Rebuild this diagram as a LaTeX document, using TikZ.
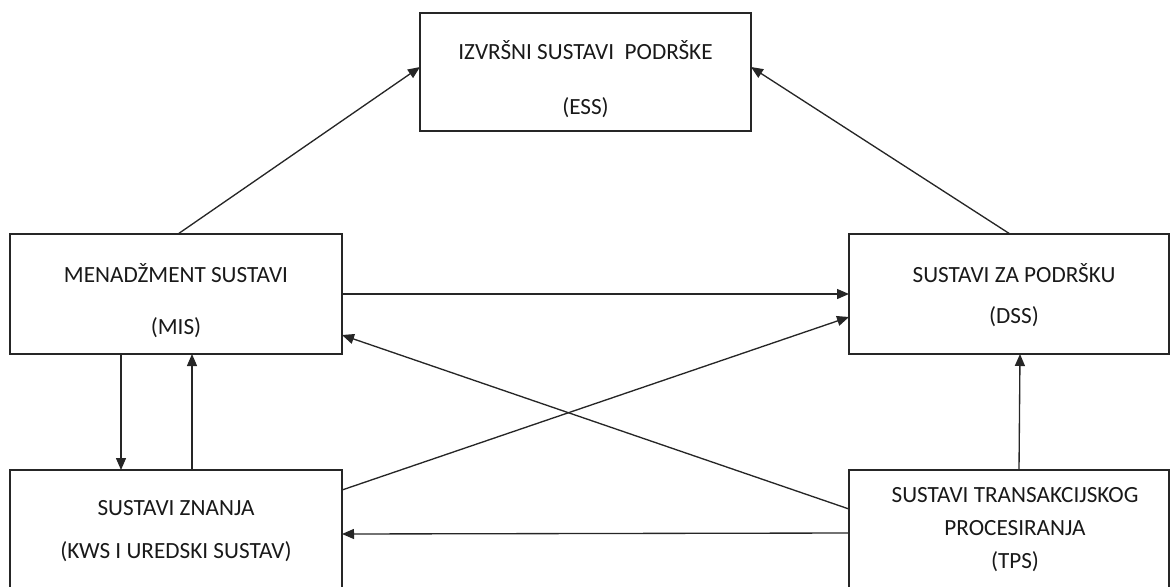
\documentclass[tikz,border=0pt]{standalone}
\usepackage{fontspec}
\setmainfont{Carlito}
\usetikzlibrary{arrows.meta,calc}
\tikzset{
  box/.style={draw=black!85, line width=1.1pt, inner sep=0pt, outer sep=0pt, anchor=north west},
  lbl/.style={font=\fontsize{17.4}{20}\selectfont, text=black!90, inner sep=0pt},
  arr/.style={draw=black!85, line width=1pt, -{Triangle[length=9pt,width=7.5pt]}},
}
\begin{document}
\begin{tikzpicture}[x=0.75pt,y=-0.75pt]
\useasboundingbox (0,0) rectangle (1170,586);
\clip (0,0) rectangle (1170,586);
\node[box, minimum width=248.25pt, minimum height=88.5pt] (ess) at (420,13) {};
\node[box, minimum width=249pt, minimum height=90pt] (mis) at (10,234) {};
\node[box, minimum width=240pt, minimum height=90pt] (dss) at (849,234) {};
\node[box, minimum width=249pt, minimum height=112.5pt] (kws) at (10,470) {};
\node[box, minimum width=240pt, minimum height=112.5pt] (tps) at (849,470) {};

\node[lbl] (esst1) at (585.5,50) {IZVRŠNI SUSTAVI\ \ PODRŠKE};
\node[lbl] (esst2) at (585.5,108) {(ESS)};
\node[lbl] (mist1) at (176,273) {MENADŽMENT SUSTAVI};
\node[lbl] (mist2) at (176,328) {(MIS)};
\node[lbl] (dsst1) at (1014,273) {SUSTAVI ZA PODRŠKU};
\node[lbl] (dsst2) at (1014,317) {(DSS)};
\node[lbl] (kwst1) at (176,508) {SUSTAVI ZNANJA};
\node[lbl] (kwst2) at (176,552) {(KWS I UREDSKI SUSTAV)};
\node[lbl] (tpst1) at (1015,495) {SUSTAVI TRANSAKCIJSKOG};
\node[lbl] (tpst2) at (1015,528) {PROCESIRANJA};
\node[lbl] (tpst3) at (1015,562) {(TPS)};

\draw[arr] ($(mis.north west)+(168,0)$) -- ($(ess.north west)+(0,54)$);
\draw[arr] ($(dss.north west)+(161,0)$) -- ($(ess.north east)+(0,54)$);
\draw[arr] ($(mis.north east)+(0,60)$) -- ($(dss.north west)+(0,60)$);
\draw[arr] ($(kws.north east)+(0,20)$) -- ($(dss.north west)+(0,83)$);
\draw[arr] ($(tps.north west)+(0,39)$) -- ($(mis.north east)+(0,101)$);
\draw[arr] ($(tps.north west)+(0,63)$) -- ($(kws.north east)+(0,64)$);
\draw[arr] ($(tps.north west)+(170,0)$) -- ($(dss.south west)+(171,0)$);
\draw[arr] ($(mis.south west)+(111,0)$) -- ($(kws.north west)+(111,0)$);
\draw[arr] ($(kws.north west)+(182,0)$) -- ($(mis.south west)+(182,0)$);
\end{tikzpicture}
\end{document}
